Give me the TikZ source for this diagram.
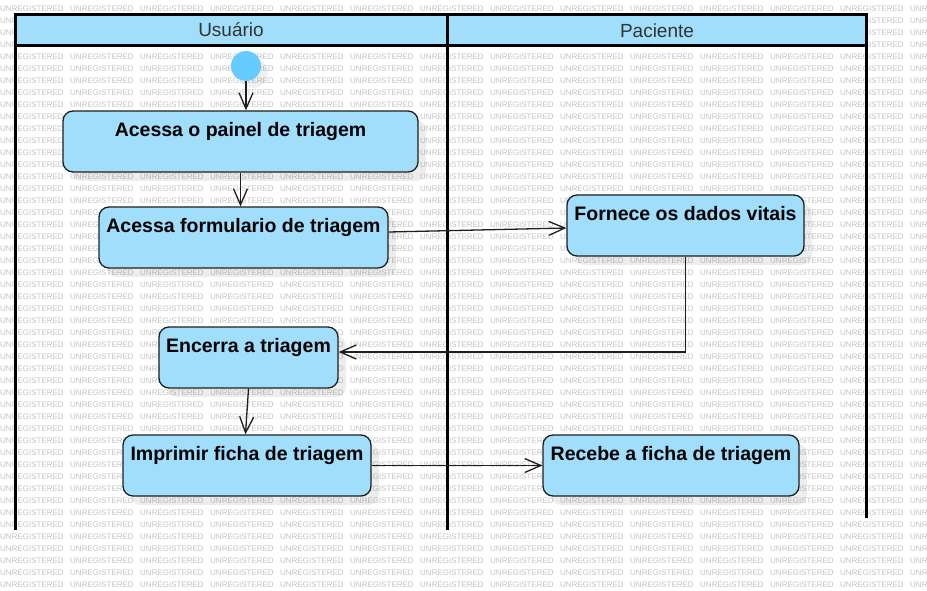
\documentclass[tikz,border=0pt]{standalone}
\usepackage{fontspec}
\setmainfont{Liberation Sans}
\usetikzlibrary{arrows.meta,shadows}
\definecolor{boxfill}{HTML}{A0DEFC}
\definecolor{startfill}{HTML}{66CCFF}
\definecolor{wmgray}{HTML}{C2C2C2}
\definecolor{hdrtext}{HTML}{333333}
\definecolor{linecol}{HTML}{1E1E1E}
\tikzset{
  wm/.style={anchor=west, inner sep=0pt, text=wmgray, font=\fontsize{8}{9}\selectfont},
  lane/.style={line width=3pt, black},
  hdr/.style={font=\fontsize{19}{22}\selectfont, text=hdrtext, inner sep=0pt},
  actbox/.style={draw=linecol, line width=1.3pt, rounded corners=10pt, fill=boxfill,
    inner xsep=0pt, inner ysep=0pt, text height=25.5pt, text depth=35.5pt,
    font=\fontsize{19.5}{23}\bfseries\selectfont,
    drop shadow={shadow xshift=8pt, shadow yshift=-9pt, opacity=0.07, fill=black}},
  flow/.style={draw=linecol, line width=1.3pt, -{Straight Barb[length=16pt,width=14pt]}},
}
\begin{document}
\begin{tikzpicture}[x=1pt,y=-1pt]
\useasboundingbox (0,0) rectangle (927,591);
% watermark
\foreach \i in {0,...,13}{
  \foreach \j in {0,...,48}{
    \node[wm] (w\i-\j) at ({70*\i},{8.3+12*\j}) {UNREGISTERED};
  }
}
% lane headers
\fill[boxfill] (15,15) rectangle (866,45.5);
\node[hdr] (hu) at (231,30) {Usuário};
\node[hdr] (hp) at (657,30.5) {Paciente};
% lane lines
\draw[lane] (15,13.5) -- (15,530);
\draw[lane] (447,13.5) -- (447,530);
\draw[lane] (866,13.5) -- (866,518);
\draw[lane] (13.5,15) -- (867.5,15);
\draw[lane] (15,45.5) -- (866,45.5);
% start
\fill[black, opacity=0.06] (253,73) circle (15);
\node[circle, fill=startfill, minimum size=30pt, inner sep=0pt] (start) at (246,66) {};
% activities
\node[actbox, minimum width=355pt] (a1) at (240.5,141.5) {Acessa o painel de triagem};
\node[actbox, minimum width=289pt] (a2) at (243.5,237.5) {Acessa formulario de triagem};
\node[actbox, minimum width=237pt] (a3) at (685.5,225.5) {Fornece os dados vitais};
\node[actbox, minimum width=179pt] (a4) at (248.5,357.5) {Encerra a triagem};
\node[actbox, minimum width=248pt] (a5) at (247,465.5) {Imprimir ficha de triagem};
\node[actbox, minimum width=256pt] (a6) at (671,465.5) {Recebe a ficha de triagem};
% flows
\draw[flow] (start.south) -- (start.south |- a1.north);
\draw[flow] (a1.south) -- (a1.south |- a2.north);
\draw[flow] ([yshift=5.5pt]a2.east) -- ([yshift=-2.5pt]a3.west);
\draw[flow] (a3.south) |- ([yshift=5.5pt]a4.east);
\draw[flow] (a4.south) -- ([xshift=-1.5pt]a5.north);
\draw[flow] (a5.east) -- (a6.west);
\end{tikzpicture}
\end{document}
